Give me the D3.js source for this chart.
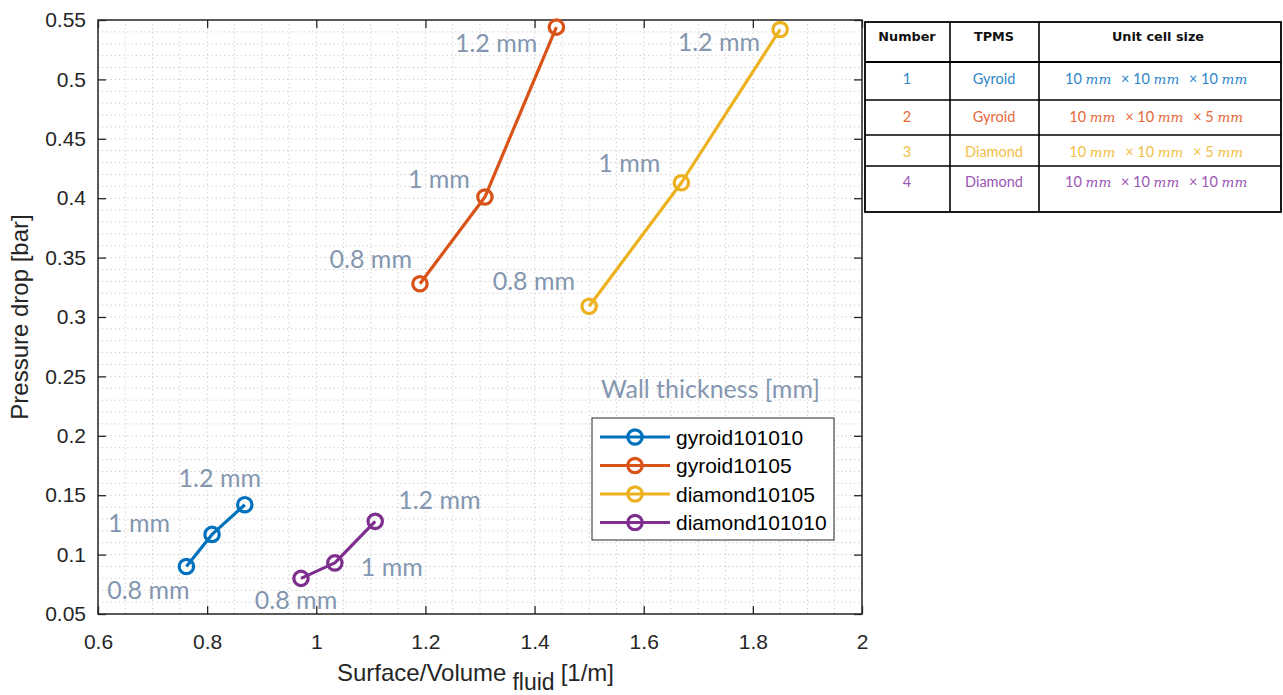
<!DOCTYPE html>
<html>
<head>
<meta charset="utf-8">
<script src="https://cdn.jsdelivr.net/npm/d3@7"></script>
<style>
  html, body { margin: 0; padding: 0; background: #fff; }
  svg { display: block; }
</style>
</head>
<body>
<svg id="chart" width="1283" height="695"></svg>
<script>
// ---- data ----
const seriesNames = ["gyroid101010", "gyroid10105", "diamond10105", "diamond101010"];
const wallLabels = ["0.8 mm", "1 mm", "1.2 mm"];

const gyroid101010X = [0.762, 0.809, 0.869];
const gyroid101010Y = [0.090, 0.117, 0.142];
const gyroid10105X = [1.190, 1.309, 1.440];
const gyroid10105Y = [0.328, 0.401, 0.544];
const diamond10105X = [1.500, 1.669, 1.850];
const diamond10105Y = [0.309, 0.413, 0.542];
const diamond101010X = [0.972, 1.034, 1.108];
const diamond101010Y = [0.080, 0.093, 0.128];

const xTicks = [0.6, 0.8, 1, 1.2, 1.4, 1.6, 1.8, 2];
const xTickLabels = ["0.6", "0.8", "1", "1.2", "1.4", "1.6", "1.8", "2"];
const yTicks = [0.05, 0.1, 0.15, 0.2, 0.25, 0.3, 0.35, 0.4, 0.45, 0.5, 0.55];
const yTickLabels = ["0.05", "0.1", "0.15", "0.2", "0.25", "0.3", "0.35", "0.4", "0.45", "0.5", "0.55"];

const tableHeaders = ["Number", "TPMS", "Unit cell size"];
const tableNumbers = ["1", "2", "3", "4"];
const tableTPMS = ["Gyroid", "Gyroid", "Diamond", "Diamond"];
const tableSizes = [[10, 10, 10], [10, 10, 5], [10, 10, 5], [10, 10, 10]];

// ---- styles ----
const seriesColors = ["#0072BD", "#D95319", "#EDB120", "#7E2F8E"];
const tableColors = ["#2F86C9", "#E5673A", "#F2BE45", "#9B55B4"];
const noteColor = "#8497B0";
const axisColor = "#262626";

const series = seriesNames.map((name, i) => {
  const xs = [gyroid101010X, gyroid10105X, diamond10105X, diamond101010X][i];
  const ys = [gyroid101010Y, gyroid10105Y, diamond10105Y, diamond101010Y][i];
  return { name, color: seriesColors[i], points: xs.map((x, j) => ({ x, y: ys[j], label: wallLabels[j] })) };
});

// label placement around each marker: [dx, dy, anchor]
const labelPlacement = [
  [[-38, 24, "middle"], [-42, -11, "end"], [-25, -26, "middle"]],
  [[-8, -24, "end"], [-15, -18, "end"], [-19, 16, "end"]],
  [[-14, -25, "end"], [-21, -20, "end"], [-20, 13, "end"]],
  [[-5, 22, "middle"], [26, 4, "start"], [23, -21, "start"]]
];

const svg = d3.select("#chart");
const plot = { left: 98, top: 20, right: 862, bottom: 614 };

const x = d3.scaleLinear().domain([0.6, 2]).range([plot.left, plot.right]);
const y = d3.scaleLinear().domain([0.05, 0.55]).range([plot.bottom, plot.top]);

// ---- dotted grid ----
const grid = svg.append("g");
grid.selectAll("line.gx")
  .data(d3.range(0, 29).map(i => 0.6 + i * 0.05))
  .join("line")
  .attr("x1", d => x(d)).attr("x2", d => x(d))
  .attr("y1", plot.top).attr("y2", plot.bottom)
  .attr("stroke", "#c8c8c8").attr("stroke-width", 1)
  .attr("stroke-dasharray", "1.2,3");
grid.selectAll("line.gy")
  .data(d3.range(0, 51).map(i => 0.05 + i * 0.01))
  .join("line")
  .attr("x1", plot.left).attr("x2", plot.right)
  .attr("y1", d => y(d)).attr("y2", d => y(d))
  .attr("stroke", "#c8c8c8").attr("stroke-width", 1)
  .attr("stroke-dasharray", "1.2,3");

// ---- axes (ticks pointing inward, box on) ----
const tickFont = "Liberation Sans, Arial, sans-serif";
const xAxis = d3.axisBottom(x).tickValues(xTicks).tickSize(-8).tickPadding(20)
  .tickFormat((d, i) => xTickLabels[i]);
const yAxis = d3.axisLeft(y).tickValues(yTicks).tickSize(-8).tickPadding(12)
  .tickFormat((d, i) => yTickLabels[i]);
const xTop = d3.axisTop(x).tickValues(xTicks).tickSize(-8).tickFormat("");
const yRight = d3.axisRight(y).tickValues(yTicks).tickSize(-8).tickFormat("");

function styleAxis(g) {
  g.select(".domain").remove();
  g.selectAll(".tick line").attr("stroke", axisColor).attr("stroke-width", 1.3);
  g.selectAll(".tick text").attr("fill", axisColor)
    .style("font-family", tickFont).style("font-size", "21px");
}
svg.append("g").attr("transform", `translate(0,${plot.bottom})`).call(xAxis).call(styleAxis);
svg.append("g").attr("transform", `translate(${plot.left},0)`).call(yAxis).call(styleAxis);
svg.append("g").attr("transform", `translate(0,${plot.top})`).call(xTop).call(styleAxis);
svg.append("g").attr("transform", `translate(${plot.right},0)`).call(yRight).call(styleAxis);

svg.append("rect")
  .attr("x", plot.left).attr("y", plot.top)
  .attr("width", plot.right - plot.left).attr("height", plot.bottom - plot.top)
  .attr("fill", "none").attr("stroke", axisColor).attr("stroke-width", 1.5);

// ---- axis labels ----
svg.append("text")
  .attr("transform", `translate(28,${(plot.top + plot.bottom) / 2}) rotate(-90)`)
  .attr("text-anchor", "middle")
  .attr("fill", axisColor)
  .style("font-family", tickFont).style("font-size", "24px")
  .text("Pressure drop [bar]");

const xl = svg.append("text")
  .attr("x", 337).attr("y", 681)
  .attr("fill", axisColor)
  .style("font-family", tickFont).style("font-size", "24px");
xl.append("tspan").text("Surface/Volume");
xl.append("tspan").attr("dx", 6).attr("dy", 9).style("font-size", "23px").text("fluid");
xl.append("tspan").attr("dx", 6).attr("dy", -9).text("[1/m]");

// ---- series ----
const line = d3.line().x(d => x(d.x)).y(d => y(d.y));
const marks = svg.append("g");
series.forEach(s => {
  marks.append("path")
    .datum(s.points)
    .attr("d", line)
    .attr("fill", "none")
    .attr("stroke", s.color)
    .attr("stroke-width", 3.2)
    .attr("stroke-linejoin", "round");
  marks.selectAll(null)
    .data(s.points)
    .join("circle")
    .attr("cx", d => x(d.x)).attr("cy", d => y(d.y))
    .attr("r", 7.2)
    .attr("fill", "none")
    .attr("stroke", s.color)
    .attr("stroke-width", 3.2);
});

// ---- wall thickness annotations ----
const noteFont = "Lato, 'Open Sans', sans-serif";
const notes = svg.append("g")
  .attr("fill", noteColor)
  .style("font-family", noteFont).style("font-size", "25px");
series.forEach((s, i) => {
  s.points.forEach((p, j) => {
    const [dx, dy, anchor] = labelPlacement[i][j];
    notes.append("text")
      .attr("x", x(p.x) + dx)
      .attr("y", y(p.y) + dy)
      .attr("dy", "0.35em")
      .attr("text-anchor", anchor)
      .text(p.label);
  });
});
notes.append("text")
  .attr("x", 601).attr("y", 389).attr("dy", "0.35em")
  .text("Wall thickness [mm]");

// ---- legend ----
const legend = svg.append("g");
legend.append("rect")
  .attr("x", 592).attr("y", 418).attr("width", 242).attr("height", 122)
  .attr("fill", "#fff").attr("stroke", "#262626").attr("stroke-width", 1);
series.forEach((s, i) => {
  const ly = 437 + i * 28.5;
  legend.append("line")
    .attr("x1", 600).attr("x2", 670).attr("y1", ly).attr("y2", ly)
    .attr("stroke", s.color).attr("stroke-width", 3.2);
  legend.append("circle")
    .attr("cx", 635).attr("cy", ly).attr("r", 7.2)
    .attr("fill", "none").attr("stroke", s.color).attr("stroke-width", 3.2);
  legend.append("text")
    .attr("x", 676).attr("y", ly).attr("dy", "0.36em")
    .attr("fill", "#000")
    .style("font-family", tickFont).style("font-size", "21px")
    .text(s.name);
});

// ---- side table ----
const tbl = svg.append("g");
const colX = [865, 950, 1039, 1281];
const rowY = [22, 62, 100, 135, 166, 212];
const textY = [37, 79, 117, 152, 182];
tbl.append("rect")
  .attr("x", colX[0]).attr("y", rowY[0])
  .attr("width", colX[3] - colX[0]).attr("height", rowY[5] - rowY[0])
  .attr("fill", "#fff").attr("stroke", "#000").attr("stroke-width", 1.8);
tbl.selectAll("line.row")
  .data(rowY.slice(1, 5))
  .join("line")
  .attr("x1", colX[0]).attr("x2", colX[3])
  .attr("y1", d => d).attr("y2", d => d)
  .attr("stroke", "#000").attr("stroke-width", (d, i) => i === 0 ? 2 : 1.4);
tbl.selectAll("line.col")
  .data(colX.slice(1, 3))
  .join("line")
  .attr("x1", d => d).attr("x2", d => d)
  .attr("y1", rowY[0]).attr("y2", rowY[5])
  .attr("stroke", "#000").attr("stroke-width", 1.6);

const colCenter = [907, 994, 1158];
tableHeaders.forEach((h, c) => {
  tbl.append("text")
    .attr("x", colCenter[c]).attr("y", textY[0]).attr("dy", "0.35em")
    .attr("text-anchor", "middle").attr("fill", "#111")
    .style("font-family", "'DejaVu Sans', Verdana, sans-serif")
    .style("font-size", "12.8px").style("font-weight", "bold")
    .text(h);
});
const bodyFont = "Lato, 'Open Sans', sans-serif";
tableNumbers.forEach((n, r) => {
  const ty = textY[r + 1];
  const col = tableColors[r];
  tbl.append("text")
    .attr("x", colCenter[0]).attr("y", ty).attr("dy", "0.35em")
    .attr("text-anchor", "middle").attr("fill", col)
    .style("font-family", bodyFont).style("font-size", "14.5px")
    .text(n);
  tbl.append("text")
    .attr("x", colCenter[1]).attr("y", ty).attr("dy", "0.35em")
    .attr("text-anchor", "middle").attr("fill", col)
    .style("font-family", bodyFont).style("font-size", "14.5px")
    .text(tableTPMS[r]);
  const t = tbl.append("text")
    .attr("x", colCenter[2]).attr("y", ty).attr("dy", "0.35em")
    .attr("text-anchor", "middle").attr("fill", col)
    .style("font-family", bodyFont).style("font-size", "14.5px")
    .attr("xml:space", "preserve");
  tableSizes[r].forEach((v, k) => {
    if (k > 0) t.append("tspan").attr("dx", 6).text("\u00d7 ");
    t.append("tspan").text(v + " ");
    t.append("tspan")
      .style("font-family", "'DejaVu Serif', 'Liberation Serif', serif")
      .style("font-style", "italic").style("font-size", "13.5px")
      .text("mm");
    t.append("tspan").text(" ");
  });
});
</script>
</body>
</html>
